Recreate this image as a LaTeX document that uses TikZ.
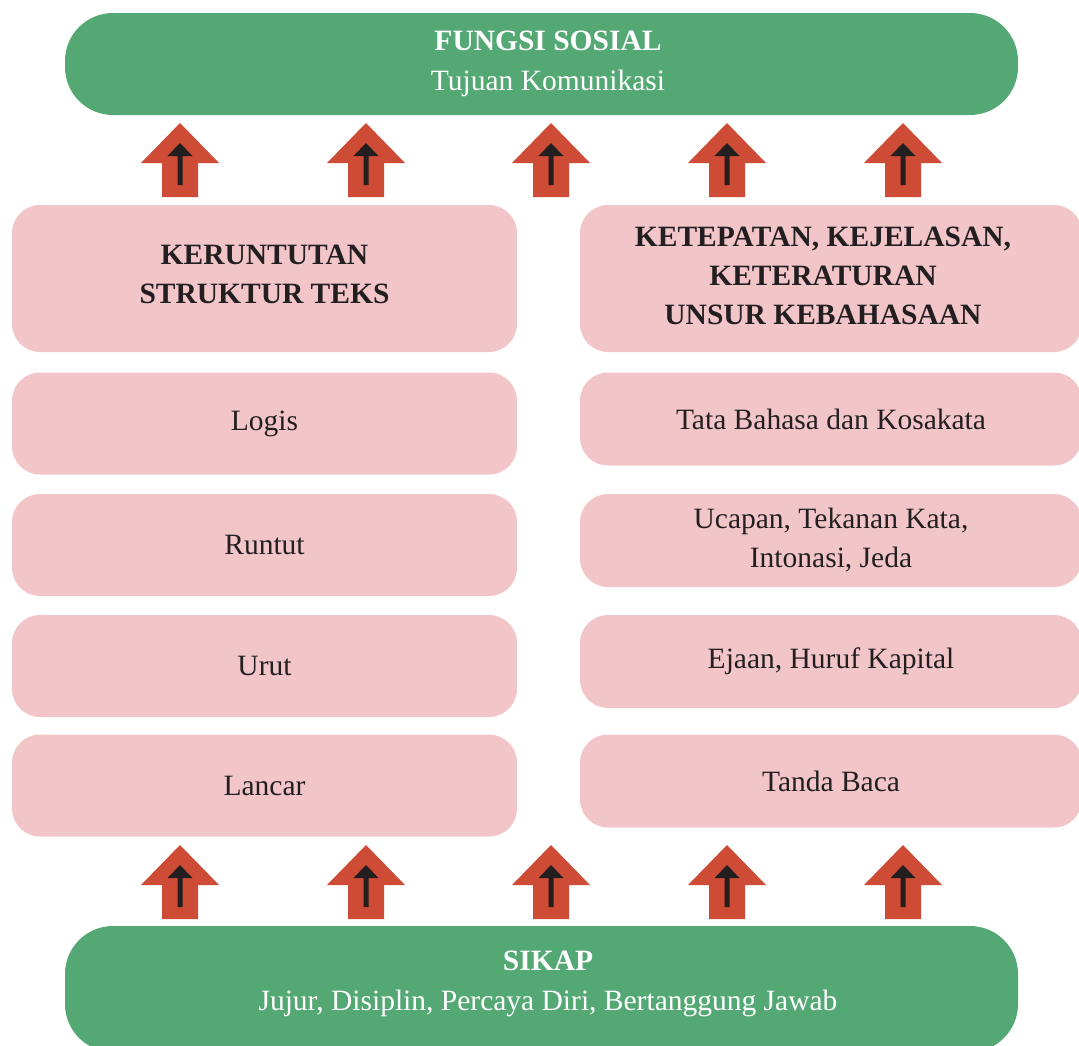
\documentclass[tikz,border=0pt]{standalone}
\usepackage{fontspec}
\setmainfont{Liberation Serif}
\usepackage{xcolor}
\usetikzlibrary{positioning}
\definecolor{leafgreen}{HTML}{54A874}
\definecolor{softpink}{HTML}{F2C6C8}
\definecolor{brickred}{HTML}{CE4B35}
\definecolor{inkblack}{HTML}{231F20}

\begin{document}
\begin{tikzpicture}[x=1pt,y=-1pt,
        greenbox/.style={fill=leafgreen, rounded corners=48pt, minimum width=953pt, inner sep=0pt},
        greentxt/.style={text=white, align=center, font=\fontsize{29.5}{40}\selectfont},
        pinkbox/.style={fill=softpink, rounded corners=28pt, text=inkblack, align=center, inner sep=0pt, font=\fontsize{29.5}{39}\selectfont},
        leftbox/.style={pinkbox, minimum width=505pt},
        rightbox/.style={pinkbox, minimum width=502pt},
        headtxt/.style={text=inkblack, align=center, font=\fontsize{29.5}{39}\selectfont\bfseries}]
        \useasboundingbox (0,0) rectangle (1079,1045);

        % top and bottom
        \node[greenbox, minimum height=102pt] (fungsi) at (541.5,64) {};
        \node[greentxt] (fungsitxt) at (548,64) {\textbf{FUNGSI SOSIAL}\\Tujuan Komunikasi};
        \node[greenbox, minimum height=126pt] (sikap) at (541.5,989) {};
        \node[greentxt] (sikaptxt) at (548,984) {\textbf{SIKAP}\\Jujur, Disiplin, Percaya Diri, Bertanggung Jawab};

        % left column
        \node[leftbox, minimum height=147pt] (struktur) at (264.5,278.5) {};
        \node[headtxt] (strukturtxt) at (264.5,274) {KERUNTUTAN\\STRUKTUR TEKS};
        \node[leftbox, minimum height=102pt] (logis) at (264.5,423.5) {Logis};
        \node[leftbox, minimum height=102pt] (runtut) at (264.5,545) {Runtut};
        \node[leftbox, minimum height=102pt] (urut) at (264.5,666) {Urut};
        \node[leftbox, minimum height=102pt] (lancar) at (264.5,785.5) {Lancar};

        % right column
        \node[rightbox, minimum height=147pt] (unsur) at (831,278.5) {};
        \node[headtxt] (unsurtxt) at (823,276) {KETEPATAN, KEJELASAN,\\KETERATURAN\\UNSUR KEBAHASAAN};
        \node[rightbox, minimum height=93pt] (tata) at (831,419) {Tata Bahasa dan Kosakata};
        \node[rightbox, minimum height=93pt] (ucapan) at (831,540.5) {Ucapan, Tekanan Kata,\\Intonasi, Jeda};
        \node[rightbox, minimum height=93pt] (ejaan) at (831,661.5) {Ejaan, Huruf Kapital};
        \node[rightbox, minimum height=93pt] (tanda) at (831,781) {Tanda Baca};

        % block arrows
        \foreach \cx in {180,366,551,727,903} {
            \foreach \ty in {123,845} {
                \fill[brickred] (\cx-39,\ty+40) -- (\cx,\ty) -- (\cx+39,\ty+40) -- (\cx+18,\ty+40)
                    -- (\cx+18,\ty+74) -- (\cx-18,\ty+74) -- (\cx-18,\ty+40) -- cycle;
                \fill[inkblack] (\cx-12.5,\ty+33) -- (\cx,\ty+20) -- (\cx+12.5,\ty+33) -- (\cx+2.5,\ty+33)
                    -- (\cx+2.5,\ty+62) -- (\cx-2.5,\ty+62) -- (\cx-2.5,\ty+33) -- cycle;
            }
        }
    \end{tikzpicture}
\end{document}
